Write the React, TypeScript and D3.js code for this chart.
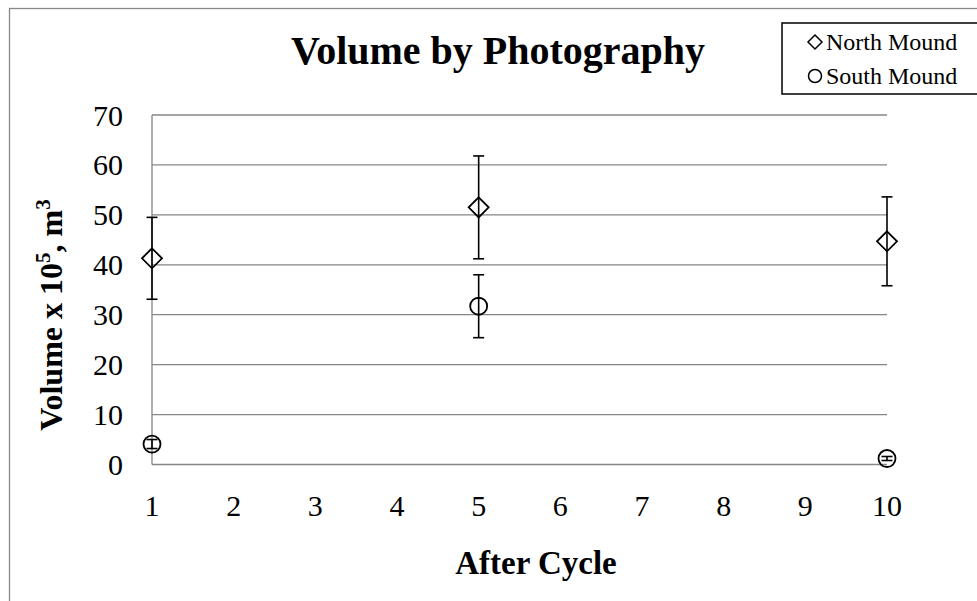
import React from "react";
import * as d3 from "d3";

const cycles = [1, 5, 10];
const northValues = [41.3, 51.5, 44.7];
const northErrors = [8.2, 10.3, 8.9];
const southValues = [4.1, 31.7, 1.2];
const southErrors = [0.9, 6.3, 0.4];
const xTicks = [1, 2, 3, 4, 5, 6, 7, 8, 9, 10];
const yTicks = [0, 10, 20, 30, 40, 50, 60, 70];

const W = 977;
const H = 601;
const FONT = "'Liberation Serif', 'Times New Roman', serif";

export default function App() {
  const x = d3.scaleLinear().domain([1, 10]).range([152, 887]);
  const y = d3.scaleLinear().domain([0, 70]).range([464.5, 115]);
  const grid = "#868686";
  const dPath = (cx: number, cy: number, r: number) =>
    `M${cx},${cy - r}L${cx + r},${cy}L${cx},${cy + r}L${cx - r},${cy}Z`;

  const errBar = (cx: number, v: number, e: number, key: string) => (
    <g key={key} stroke="#000" strokeWidth={1.6}>
      <line x1={cx} x2={cx} y1={y(v + e)} y2={y(v - e)} />
      <line x1={cx - 5.5} x2={cx + 5.5} y1={y(v + e)} y2={y(v + e)} />
      <line x1={cx - 5.5} x2={cx + 5.5} y1={y(v - e)} y2={y(v - e)} />
    </g>
  );

  return (
    <svg width={W} height={H} style={{ position: "absolute", left: 0, top: 0, background: "#fff" }} fontFamily={FONT}>
      <rect x={0} y={0} width={W} height={H} fill="#fff" />
      <rect x={9.5} y={8.5} width={W + 20} height={H + 20} fill="none" stroke="#888" strokeWidth={1.3} />
      {yTicks.map((t) => (
        <line key={"g" + t} x1={x(1)} x2={x(10)} y1={y(t)} y2={y(t)} stroke={grid} strokeWidth={1.3} />
      ))}
      <line x1={x(1)} x2={x(1)} y1={y(70)} y2={y(0)} stroke={grid} strokeWidth={1.3} />
      {yTicks.map((t) => (
        <text key={"yl" + t} x={123} y={y(t)} dy="0.35em" textAnchor="end" fontSize={30} fill="#000">
          {t}
        </text>
      ))}
      {xTicks.map((t) => (
        <text key={"xl" + t} x={x(t)} y={505} dy="0.35em" textAnchor="middle" fontSize={30} fill="#000">
          {t}
        </text>
      ))}
      {cycles.map((c, i) => errBar(x(c), northValues[i], northErrors[i], "ne" + i))}
      {cycles.map((c, i) => errBar(x(c), southValues[i], southErrors[i], "se" + i))}
      {cycles.map((c, i) => (
        <path key={"n" + i} d={dPath(x(c), y(northValues[i]), 10)} fill="none" stroke="#000" strokeWidth={1.8} />
      ))}
      {cycles.map((c, i) => (
        <circle key={"s" + i} cx={x(c)} cy={y(southValues[i])} r={8.5} fill="none" stroke="#000" strokeWidth={1.8} />
      ))}
      <text x={498} y={64} textAnchor="middle" fontSize={40} fontWeight="bold" fill="#000">
        Volume by Photography
      </text>
      <text x={536} y={574} textAnchor="middle" fontSize={33} fontWeight="bold" fill="#000">
        After Cycle
      </text>
      <text transform="translate(62,315) rotate(-90)" textAnchor="middle" fontSize={32} fontWeight="bold" fill="#000">
        Volume x 10<tspan dy={-12} fontSize={21}>5</tspan>
        <tspan dy={12}>, m</tspan>
        <tspan dy={-12} fontSize={21}>3</tspan>
      </text>
      <rect x={782} y={23} width={220} height={71} fill="#fff" stroke="#000" strokeWidth={1.5} />
      <path d={dPath(815, 42, 7)} fill="none" stroke="#000" strokeWidth={1.5} />
      <text x={826} y={42} dy="0.35em" fontSize={24} fill="#000">North Mound</text>
      <circle cx={815} cy={76} r={6.5} fill="none" stroke="#000" strokeWidth={1.5} />
      <text x={826} y={76} dy="0.35em" fontSize={24} fill="#000">South Mound</text>
    </svg>
  );
}
